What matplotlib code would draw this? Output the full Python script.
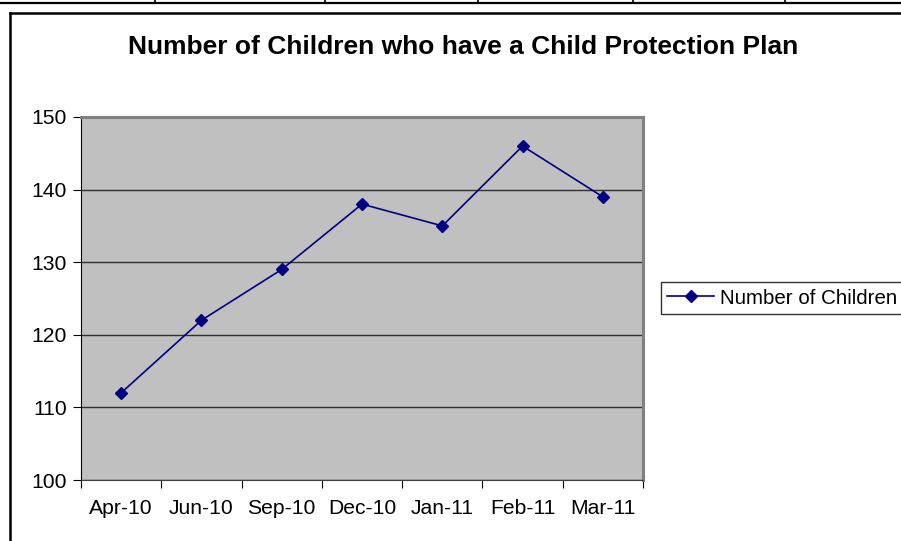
import matplotlib

matplotlib.use("Agg")
import matplotlib.pyplot as plt
from matplotlib.lines import Line2D

months = ["Apr-10", "Jun-10", "Sep-10", "Dec-10", "Jan-11", "Feb-11", "Mar-11"]
children = [112, 122, 129, 138, 135, 146, 139]
y_ticks = [100, 110, 120, 130, 140, 150]

W, H = 901, 541
plt.rcParams["font.family"] = ["Liberation Sans", "DejaVu Sans"]

fig = plt.figure(figsize=(W / 100, H / 100), dpi=100)
fig.patch.set_facecolor("white")


def px(x0, y0, x1, y1, lw=1.5):
    # line in pixel coords (origin top-left)
    fig.add_artist(Line2D([x0 / W, x1 / W], [1 - y0 / H, 1 - y1 / H],
                          color="black", lw=lw, transform=fig.transFigure))


# bits of the surrounding page: table edge and chart frame
px(0, 3, W, 3, lw=1.6)
for xv in [155, 325, 478, 633, 785]:
    px(xv, 0, xv, 3, lw=1.2)
px(10, 12.5, W, 12.5, lw=1.8)
px(10, 12.5, 10, H, lw=1.8)

ax = fig.add_axes([81 / W, (H - 480) / H, 562 / W, 363 / H])
ax.set_facecolor("#c0c0c0")

xs = range(len(months))
ax.plot(xs, children, color="#000080", lw=1.2, marker="D", ms=6,
        label="Number of Children", zorder=3)

ax.set_xlim(-0.5, len(months) - 0.5)
ax.set_ylim(y_ticks[0], y_ticks[-1])
ax.set_yticks(y_ticks)
ax.grid(axis="y", color="#303030", lw=1.0)
ax.set_axisbelow(True)

ax.set_xticks([i - 0.5 for i in range(len(months) + 1)])
ax.set_xticklabels([])
ax.set_xticks(list(xs), minor=True)
ax.set_xticklabels(months, minor=True)
ax.tick_params(axis="x", which="major", length=6, direction="out", color="black")
ax.tick_params(axis="x", which="minor", length=0, pad=14, labelsize=15.2)
ax.tick_params(axis="y", length=6, direction="out", pad=4, labelsize=15.2)

for side in ["top", "right"]:
    ax.spines[side].set_color("#808080")
    ax.spines[side].set_linewidth(2.2)
ax.spines["left"].set_color("black")
ax.spines["bottom"].set_color("#404040")

fig.text(463 / W, 1 - 47 / H, "Number of Children who have a Child Protection Plan",
         ha="center", va="center", fontsize=19, fontweight="bold")

leg = ax.legend(loc="center left", bbox_to_anchor=(661 / W, 1 - 298 / H),
                bbox_transform=fig.transFigure, fontsize=14.8, frameon=True,
                fancybox=False, edgecolor="black", handlelength=2.3,
                borderpad=0.3, handletextpad=0.25, borderaxespad=0)
leg.get_frame().set_linewidth(1.0)

fig.savefig("out.png", dpi=100)
